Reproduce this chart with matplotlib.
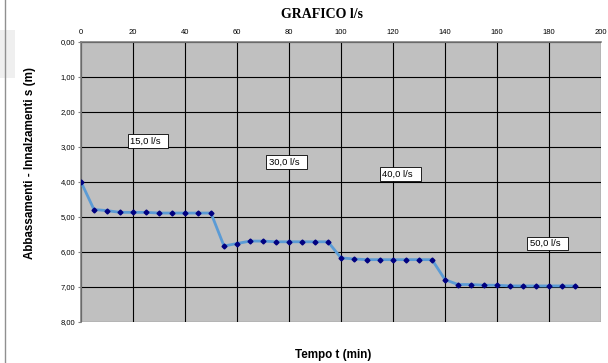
import matplotlib
matplotlib.use("Agg")
import matplotlib.pyplot as plt
from matplotlib.lines import Line2D
from matplotlib.patches import Rectangle
from matplotlib.ticker import FuncFormatter

# tempo (min) e abbassamenti (m)
tempo = [0, 5, 10, 15, 20, 25, 30, 35, 40, 45, 50,
         55, 60, 65, 70, 75, 80, 85, 90, 95,
         100, 105, 110, 115, 120, 125, 130, 135,
         140, 145, 150, 155, 160, 165, 170, 175, 180, 185, 190]
abbass = [4.00, 4.79, 4.82, 4.87, 4.87, 4.87, 4.89, 4.89, 4.89, 4.89, 4.89,
          5.83, 5.76, 5.69, 5.69, 5.71, 5.71, 5.71, 5.71, 5.71,
          6.17, 6.20, 6.22, 6.22, 6.22, 6.22, 6.22, 6.22,
          6.79, 6.93, 6.93, 6.95, 6.95, 6.97, 6.97, 6.97, 6.97, 6.97, 6.97]

portate = ["15,0 l/s", "30,0 l/s", "40,0 l/s", "50,0 l/s"]
portate_t = [18.8, 72.2, 115.9, 172.6]
portate_s = [2.84, 3.43, 3.77, 5.76]

x_ticks = list(range(0, 201, 20))
y_ticks = [0, 1, 2, 3, 4, 5, 6, 7, 8]

plt.rcParams["font.family"] = ["Liberation Sans", "DejaVu Sans"]

fig = plt.figure(figsize=(6.08, 3.63), dpi=100)
ax = fig.add_axes([0.1332, 0.1129, 0.8553, 0.7721])
ax.set_facecolor("#c0c0c0")

ax.plot(tempo, abbass, color="#5b9bd5", lw=2, zorder=3)
ax.plot(tempo, abbass, ls="none", marker="D", ms=2.5, color="#000080", zorder=4)

ax.set_xlim(0, 200)
ax.set_ylim(8, 0)
ax.set_xticks(x_ticks)
ax.set_yticks(y_ticks)
ax.yaxis.set_major_formatter(FuncFormatter(lambda v, p: f"{v:.2f}".replace(".", ",")))
ax.xaxis.tick_top()
ax.tick_params(axis="x", length=0, labelsize=5.5, pad=4)
ax.tick_params(axis="y", length=2, labelsize=5.5, pad=2, color="#808080")
ax.grid(True, color="black", lw=0.8)
ax.set_axisbelow(True)

for side in ["right", "bottom"]:
    ax.spines[side].set_visible(False)
for side in ["top", "left"]:
    ax.spines[side].set_color("#808080")
    ax.spines[side].set_linewidth(1.2)

for txt, t, s in zip(portate, portate_t, portate_s):
    ax.text(t, s, txt + "  ", fontsize=6.8, ha="left", va="center", zorder=5,
            bbox=dict(boxstyle="square,pad=0.25", fc="white", ec="black", lw=0.6))

fig.text(0.530, 0.959, "GRAFICO l/s", fontsize=10, fontweight="bold",
         family="Liberation Serif", ha="center", va="center")
fig.text(0.049, 0.55, "Abbassamenti - Innalzamenti s (m)", fontsize=8.4,
         fontweight="bold", rotation=90, ha="center", va="center")
fig.text(0.5485, 0.022, "Tempo t (min)", fontsize=8.4, fontweight="bold",
         ha="center", va="center")

# cornice della schermata originale
fig.add_artist(Rectangle((0, 0.785), 0.0247, 0.132, color="#efefef", lw=0,
                         transform=fig.transFigure))
fig.add_artist(Line2D([0.0085, 0.0085], [0, 1], color="#909090", lw=1.0))

fig.savefig("out.png", dpi=100)
